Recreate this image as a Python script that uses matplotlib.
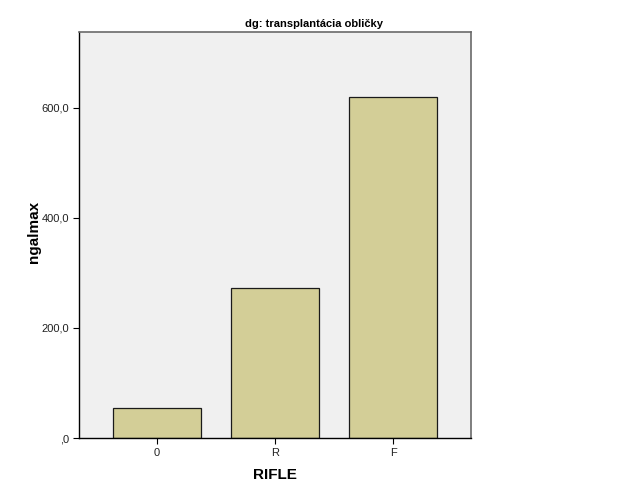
import matplotlib
matplotlib.use('Agg')
import matplotlib.pyplot as plt

categories = ['0', 'R', 'F']
values = [54.5, 272.5, 620.0]
yticks = [0, 200, 400, 600]
ytick_labels = [',0', '200,0', '400,0', '600,0']

plt.rcParams['font.family'] = ['Liberation Sans', 'DejaVu Sans']

fig = plt.figure(figsize=(6.28, 5.03), dpi=100)
ax = fig.add_axes([79/628, 65/503, 392/628, 406/503])
ax.set_facecolor('#F0F0F0')

x = range(len(categories))
ax.bar(x, values, width=0.746, color='#D3CE97', edgecolor='#1a1a1a', linewidth=0.9, zorder=2)

ax.set_xlim(-0.661, 2.661)
ax.set_ylim(0, 738)
ax.set_xticks(list(x))
ax.set_xticklabels(categories, fontsize=8, color='#222222')
ax.set_yticks(yticks)
ax.set_yticklabels(ytick_labels, fontsize=8, color='#222222')
ax.tick_params(axis='both', length=4, width=0.8, color='black', pad=3)

for side in ['left', 'bottom']:
    ax.spines[side].set_color('black')
    ax.spines[side].set_linewidth(1.0)
for side in ['top', 'right']:
    ax.spines[side].set_color('#6a6a6a')
    ax.spines[side].set_linewidth(1.2)

ax.set_xlabel('RIFLE', fontsize=11, fontweight='bold')
ax.set_ylabel('ngalmax', fontsize=11, fontweight='bold')
ax.xaxis.set_label_coords(196/392, -37/406)
ax.yaxis.set_label_coords(-45/392, 206/406)
ax.xaxis.label.set_va('center')
ax.yaxis.label.set_va('center')
fig.text(0.5, 1 - 24/503, 'dg: transplantácia obličky', fontsize=8, fontweight='bold',
         ha='center', va='center')

plt.savefig('out.png', dpi=100)
